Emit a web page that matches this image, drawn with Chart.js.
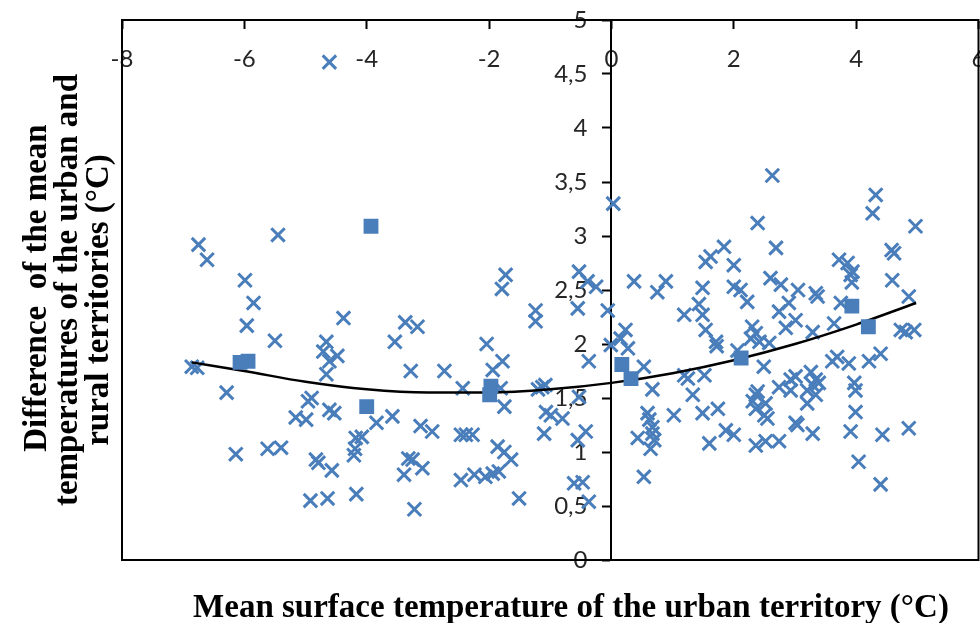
<!DOCTYPE html>
<html><head><meta charset="utf-8">
<script src="https://cdn.jsdelivr.net/npm/chart.js@4/dist/chart.umd.min.js"></script>
<style>html,body{margin:0;padding:0;background:#fff;overflow:hidden}</style>
</head><body>
<canvas id="c" width="991" height="623"></canvas>
<script>
const crossX = [-4.61,-6.75,-6.61,-5.45,-5.99,-5.85,-5.96,-5.50,-4.38,-4.66,-4.71,-4.48,-4.61,-4.66,-3.54,-6.86,-6.77,-6.29,-4.96,-4.90,-5.16,-4.99,-4.61,-4.53,-3.84,-3.58,-4.18,-4.08,-4.19,-4.21,-6.14,-5.62,-5.40,-4.83,-4.79,-4.57,-4.92,-4.64,-4.17,-3.37,-3.17,-3.28,-2.73,-2.43,-2.04,-1.94,-1.78,-1.79,-1.73,-1.24,-1.24,-1.20,-1.13,-1.08,-0.55,-0.53,-0.39,-0.25,-0.06,-0.37,0.03,0.37,0.75,-0.01,0.15,0.23,0.27,0.53,0.67,-0.53,-1.07,-0.99,-0.80,-1.10,-0.55,-0.42,-0.61,-0.47,-0.37,0.59,0.62,0.67,0.43,0.67,0.64,0.53,-3.12,-2.93,-3.32,-3.25,-3.39,-3.09,-3.22,-2.46,-2.38,-2.27,-2.46,-2.24,-2.06,-1.94,-1.84,-1.86,-1.75,-1.64,-1.75,-1.81,-1.51,
0.89,1.19,1.43,1.49,1.54,1.71,1.72,1.49,1.54,1.62,1.84,2.00,2.00,2.11,2.22,2.39,2.63,2.69,2.60,2.77,3.05,2.90,2.74,3.01,2.85,2.30,2.36,2.28,2.42,2.58,2.06,2.49,1.19,1.25,1.52,1.33,2.39,2.74,2.93,3.01,0.70,1.02,1.49,1.74,1.60,1.87,2.00,2.36,2.31,2.36,2.52,2.50,2.55,2.36,2.52,2.74,2.93,3.01,4.32,4.27,4.97,4.58,4.62,3.72,3.86,3.94,3.91,3.93,4.59,4.86,3.34,3.37,3.29,3.64,3.75,4.73,4.81,4.95,3.61,3.69,3.88,4.21,4.40,3.26,3.34,3.39,3.20,3.97,3.99,3.29,3.20,3.34,3.99,3.04,3.29,3.91,4.43,4.86,4.04,4.40];
const crossY = [4.61,2.92,2.78,3.01,2.59,2.38,2.17,2.03,2.24,2.02,1.93,1.89,1.84,1.72,2.02,1.79,1.78,1.55,1.47,1.50,1.32,1.30,1.39,1.36,1.27,1.33,1.13,1.14,1.03,0.97,0.98,1.03,1.04,0.93,0.90,0.83,0.55,0.57,0.61,2.20,2.16,1.75,1.75,1.59,2.00,1.76,1.84,2.51,2.64,2.31,2.21,1.58,1.60,1.62,2.33,2.67,2.58,2.53,2.31,1.84,3.30,2.58,2.48,1.99,2.05,2.13,1.96,1.79,1.58,1.51,1.37,1.34,1.31,1.17,1.11,1.19,0.71,0.72,0.54,1.36,1.30,1.23,1.13,1.17,1.03,0.77,1.24,1.19,0.94,0.93,0.79,0.85,0.47,1.16,1.16,1.16,0.74,0.79,0.77,0.80,0.82,1.05,1.00,0.93,1.42,1.59,0.57,
2.58,2.27,2.37,2.27,2.13,2.02,1.98,2.52,2.76,2.81,2.90,2.73,2.53,2.50,2.39,3.12,3.56,2.89,2.61,2.55,2.50,2.38,2.30,2.22,2.15,2.16,2.10,2.05,2.02,2.01,1.94,1.79,1.71,1.68,1.71,1.53,1.56,1.60,1.67,1.70,1.11,1.34,1.36,1.40,1.08,1.20,1.16,1.53,1.47,1.40,1.45,1.34,1.31,1.06,1.10,1.10,1.57,1.27,3.38,3.21,3.09,2.87,2.84,2.78,2.75,2.67,2.64,2.57,2.59,2.44,2.47,2.44,2.11,2.19,2.38,2.13,2.11,2.13,1.84,1.88,1.82,1.84,1.91,1.74,1.67,1.64,1.57,1.64,1.57,1.62,1.45,1.53,1.37,1.25,1.17,1.19,1.16,1.22,0.91,0.70];

const meanX = [-6.07,-5.94,-3.93,-4.00,-1.97,-1.99,0.17,0.32,2.12,3.93,4.20];
const meanY = [1.83,1.84,3.09,1.42,1.61,1.53,1.81,1.68,1.87,2.35,2.16];

const trendX = [-6.86,-6,-5,-4,-3,-2,-1,0,1,2,3,4,4.98];
const trendY = [1.83,1.75,1.65,1.58,1.55,1.55,1.58,1.64,1.73,1.85,2.00,2.18,2.38];

const xTickValues = [-8,-6,-4,-2,0,2,4,6];
const xTickLabels = ['-8','-6','-4','-2','0','2','4','6'];
const yTickValues = [0,0.5,1,1.5,2,2.5,3,3.5,4,4.5,5];
const yTickLabels = ['0','0,5','1','1,5','2','2,5','3','3,5','4','4,5','5'];

const xTitle = 'Mean surface temperature of the urban territory (°C)';
const yTitleLines = ['Difference  of the mean','temperatures of the urban and','rural territories (°C)'];

const blue = '#4A7EBB';
const tickFont = {family: 'Lato', size: 24};

const zip = (xs, ys) => xs.map((x, i) => ({x, y: ys[i]}));

const framePlugin = {
  id: 'frameAndTitles',
  beforeDraw(chart) {
    // y tick labels sit left of the axis line (tick + padding gap)
    const items = chart.scales.y.getLabelItems();
    if (!items._shifted) {
      items.forEach(it => { it.options.translation[0] -= 24; });
      items._shifted = true;
    }
  },
  beforeDatasetsDraw(chart) {
    const {ctx, chartArea: a} = chart;
    ctx.save();
    ctx.strokeStyle = '#000';
    ctx.lineWidth = 2;
    ctx.strokeRect(a.left, a.top, a.right - a.left, a.bottom - a.top);
    ctx.restore();
  },
  afterDraw(chart) {
    const {ctx} = chart;
    ctx.save();
    ctx.fillStyle = '#000';
    ctx.font = 'bold 33px "Liberation Serif"';
    ctx.textAlign = 'center';
    ctx.textBaseline = 'alphabetic';
    ctx.fillText(xTitle, 571, 617);
    ctx.rotate(-Math.PI / 2);
    const bases = [46, 77, 108];
    const centers = [288, 290, 300];
    yTitleLines.forEach((t, i) => ctx.fillText(t, -centers[i], bases[i]));
    ctx.restore();
  }
};

new Chart(document.getElementById('c'), {
  type: 'scatter',
  data: {
    datasets: [
      {
        label: 'means', order: 0,
        data: zip(meanX, meanY),
        pointStyle: 'rect', pointRadius: 10.5,
        backgroundColor: blue, borderColor: blue, borderWidth: 0
      },
      {
        label: 'trend', type: 'line', order: 1,
        data: zip(trendX, trendY),
        borderColor: '#000', borderWidth: 2.5,
        pointRadius: 0, fill: false,
        cubicInterpolationMode: 'monotone'
      },
      {
        label: 'cities', order: 2,
        data: zip(crossX, crossY),
        pointStyle: 'crossRot', pointRadius: 9.5,
        borderColor: blue, borderWidth: 3, backgroundColor: blue
      }
    ]
  },
  options: {
    responsive: false,
    animation: false,
    devicePixelRatio: 1,
    layout: {padding: {left: 122, top: 20, right: 2, bottom: 63}},
    plugins: {legend: {display: false}, tooltip: {enabled: false}, title: {display: false}},
    scales: {
      x: {
        type: 'linear', min: -8, max: 6,
        position: {y: 5},
        afterBuildTicks: s => { s.ticks = xTickValues.map(v => ({value: v})); },
        afterFit: s => { s.paddingLeft = 0; s.paddingRight = 0; },
        ticks: {font: tickFont, color: '#262626', padding: 17, maxRotation: 0, autoSkip: false,
          callback: (v, i) => xTickLabels[i]},
        grid: {drawOnChartArea: false, drawTicks: true, tickLength: 8, tickWidth: 2, tickColor: '#000'},
        border: {display: true, color: '#000', width: 2}
      },
      y: {
        type: 'linear', min: 0, max: 5,
        position: {x: 0},
        afterBuildTicks: s => { s.ticks = yTickValues.map(v => ({value: v})); },
        afterFit: s => { s.paddingTop = 0; s.paddingBottom = 0; },
        ticks: {font: tickFont, color: '#262626', padding: 16, autoSkip: false,
          callback: (v, i) => yTickLabels[i]},
        grid: {drawOnChartArea: false, drawTicks: true, tickLength: 8, tickWidth: 2, tickColor: '#000'},
        border: {display: true, color: '#000', width: 2}
      }
    }
  },
  plugins: [framePlugin]
});
</script>
</body></html>
